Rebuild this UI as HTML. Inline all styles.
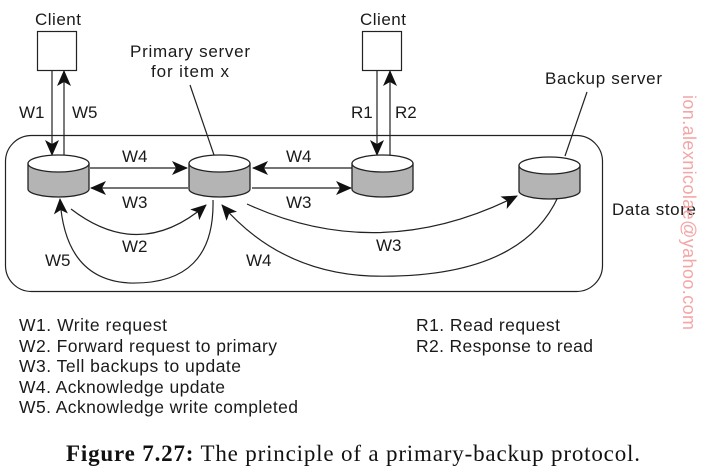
<!DOCTYPE html>
<html><head><meta charset="utf-8"><style>
body{margin:0;background:#fff;}
svg{display:block;}
.t{font-family:"Liberation Sans",sans-serif;font-size:17px;fill:#1a1a1a;}
.l{font-size:17.5px;}
</style></head><body>
<svg width="712" height="474" viewBox="0 0 712 474" xmlns="http://www.w3.org/2000/svg">
<defs>
<marker id="a" markerWidth="16" markerHeight="14" refX="15" refY="7" orient="auto" markerUnits="userSpaceOnUse">
<path d="M0,0 L16,7 L0,14 L4,7 Z" fill="#111"/></marker>
<g id="cyl">
<path d="M0,8.5 L0,34 A30.5,8 0 0 0 61,34 L61,8.5" fill="#b4b4b4" stroke="#222" stroke-width="1.3"/>
<ellipse cx="30.5" cy="8.5" rx="30.5" ry="8.5" fill="#fff" stroke="#222" stroke-width="1.3"/>
</g>
</defs>
<rect x="5.5" y="135.5" width="597" height="156" rx="26" fill="none" stroke="#222" stroke-width="1.2"/>
<rect x="37.5" y="31.5" width="39" height="39" fill="#fff" stroke="#222" stroke-width="1.2"/>
<rect x="362.5" y="31.5" width="39" height="39" fill="#fff" stroke="#222" stroke-width="1.2"/>
<text class="t" x="58" y="25" text-anchor="middle" textLength="46">Client</text>
<text class="t" x="383" y="25" text-anchor="middle" textLength="46">Client</text>
<text class="t" x="190" y="57" text-anchor="middle" textLength="120">Primary server</text>
<text class="t" x="190" y="77" text-anchor="middle" textLength="78">for item x</text>
<text class="t" x="545" y="84" textLength="117">Backup server</text>
<text class="t" x="612" y="215" textLength="84">Data store</text>
<g stroke="#222" stroke-width="1.2" fill="none">
<line x1="52" y1="71" x2="52" y2="155" marker-end="url(#a)"/>
<line x1="64" y1="155" x2="64" y2="71" marker-end="url(#a)"/>
<line x1="377" y1="71" x2="377" y2="155" marker-end="url(#a)"/>
<line x1="390" y1="155" x2="390" y2="71" marker-end="url(#a)"/>
<line x1="190" y1="85" x2="214" y2="155"/>
<line x1="587" y1="92" x2="565" y2="156"/>
<line x1="90" y1="168" x2="187" y2="168" marker-end="url(#a)"/>
<line x1="188" y1="188" x2="91" y2="188" marker-end="url(#a)"/>
<line x1="412" y1="168" x2="253" y2="168" marker-end="url(#a)"/>
<line x1="252" y1="188" x2="351" y2="188" marker-end="url(#a)"/>
<path d="M71,209 Q140,262 206,205" marker-end="url(#a)"/>
<path d="M213,200 Q215,285 130,283 Q65,280 60,199" marker-end="url(#a)"/>
<path d="M247,204 Q380,265 517,196" marker-end="url(#a)"/>
<path d="M558,197 Q520,280 370,276 Q280,272 222,205" marker-end="url(#a)"/>
</g>
<use href="#cyl" x="28" y="155"/>
<use href="#cyl" x="189" y="155"/>
<use href="#cyl" x="352" y="155"/>
<use href="#cyl" x="519" y="157"/>
<text class="t" x="19" y="118">W1</text>
<text class="t" x="72" y="118">W5</text>
<text class="t" x="351" y="118">R1</text>
<text class="t" x="395" y="118">R2</text>
<text class="t" x="122" y="162">W4</text>
<text class="t" x="122" y="208">W3</text>
<text class="t" x="286" y="162">W4</text>
<text class="t" x="286" y="208">W3</text>
<text class="t" x="122" y="252">W2</text>
<text class="t" x="45" y="266">W5</text>
<text class="t" x="246" y="266">W4</text>
<text class="t" x="376" y="251">W3</text>
<text class="t l" x="19" y="331" textLength="148">W1. Write request</text>
<text class="t l" x="19" y="352" textLength="258">W2. Forward request to primary</text>
<text class="t l" x="19" y="372" textLength="222">W3. Tell backups to update</text>
<text class="t l" x="19" y="393" textLength="206">W4. Acknowledge update</text>
<text class="t l" x="19" y="413" textLength="279">W5. Acknowledge write completed</text>
<text class="t l" x="416" y="331" textLength="144">R1. Read request</text>
<text class="t l" x="416" y="352" textLength="177">R2. Response to read</text>
<text x="66" y="461" font-family="Liberation Serif,serif" font-size="23" fill="#111" textLength="574"><tspan font-weight="bold">Figure 7.27:</tspan> The principle of a primary-backup protocol.</text>
<text transform="translate(683,95) rotate(90)" font-family="Liberation Sans,sans-serif" font-size="18" fill="#f4a6a6" textLength="235">ion.alexnicolae@yahoo.com</text>
</svg>
</body></html>
